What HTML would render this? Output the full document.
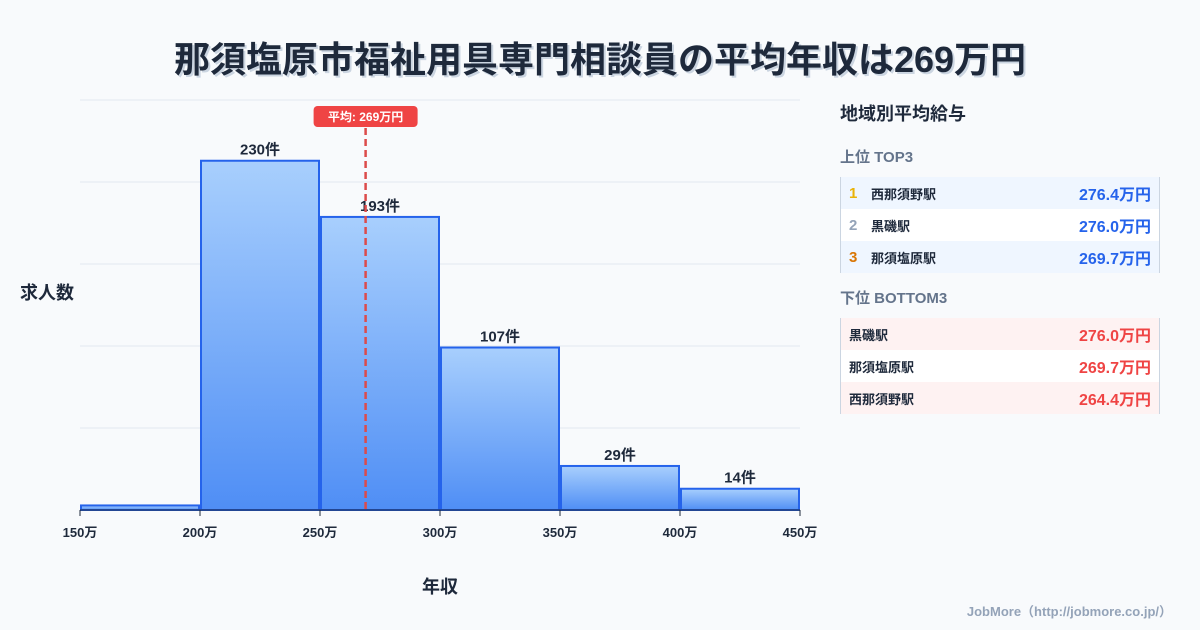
<!DOCTYPE html>
<html><head><meta charset="utf-8"><style>
body{margin:0;width:1200px;height:630px;background:#f8fafc;font-family:"Liberation Sans","Noto Sans CJK JP",sans-serif;position:relative;overflow:hidden;color:#1e293b}
.title{position:absolute;top:31px;left:0;width:1200px;text-align:center;font-size:36px;font-weight:bold;color:#1e293b;text-shadow:2px 2px 0 #cbd5e1}
.panel{position:absolute;left:840px;top:100px;width:320px}
.ph{font-size:18px;font-weight:bold;margin-bottom:20px}
.sec{font-size:15px;font-weight:bold;color:#64748b;margin:0 0 10px}
.tbl{border-left:1px solid #cbd5e1;border-right:1px solid #cbd5e1;margin-bottom:14px}
.row{height:32px;display:flex;align-items:center;font-size:13px;font-weight:bold;padding:0 8px}
.row .n{width:22px;font-size:15px}
.row .v{margin-left:auto;font-size:16px}
.foot{position:absolute;right:28px;bottom:10px;font-size:13px;font-weight:bold;color:#94a3b8}
</style></head><body>
<div class="title">那須塩原市福祉用具専門相談員の平均年収は269万円</div>
<svg width="1200" height="630" style="position:absolute;left:0;top:0" id="chart">
<defs><linearGradient id="g" x1="0" y1="0" x2="0" y2="1"><stop offset="0" stop-color="#a8cffd"/><stop offset="1" stop-color="#4f8ef5"/></linearGradient></defs>
<g id="grid"></g><g id="bars"></g><g id="axis"></g>
<text x="20" y="299" font-size="18" font-weight="bold" fill="#1e293b">求人数</text>
<text x="440" y="593" font-size="18" font-weight="bold" fill="#1e293b" text-anchor="middle">年収</text>
</svg>
<div class="panel">
<div class="ph">地域別平均給与</div>
<div class="sec">上位 TOP3</div>
<div class="tbl">
<div class="row" style="background:#eff6ff"><span class="n" style="color:#eab308">1</span>西那須野駅<span class="v" style="color:#2563eb">276.4万円</span></div>
<div class="row" style="background:#fff"><span class="n" style="color:#94a3b8">2</span>黒磯駅<span class="v" style="color:#2563eb">276.0万円</span></div>
<div class="row" style="background:#eff6ff"><span class="n" style="color:#d97706">3</span>那須塩原駅<span class="v" style="color:#2563eb">269.7万円</span></div>
</div>
<div class="sec">下位 BOTTOM3</div>
<div class="tbl">
<div class="row" style="background:#fef2f2">黒磯駅<span class="v" style="color:#ef4444">276.0万円</span></div>
<div class="row" style="background:#fff">那須塩原駅<span class="v" style="color:#ef4444">269.7万円</span></div>
<div class="row" style="background:#fef2f2">西那須野駅<span class="v" style="color:#ef4444">264.4万円</span></div>
</div>
</div>
<div class="foot">JobMore（http://jobmore.co.jp/）</div>
<script>
const binEdges=[150,200,250,300,350,400,450];
const counts=[3,230,193,107,29,14];
const countLabels=["","230件","193件","107件","29件","14件"];
const tickLabels=["150万","200万","250万","300万","350万","400万","450万"];
const yTicks=[0,54,108,162,216,270];
const avg=269;
const avgLabel="平均: 269万円";
const NS="http://www.w3.org/2000/svg";
const X0=80,X1=800,Y0=510,Y1=100;
const xs=v=>X0+(v-150)/(450-150)*(X1-X0);
const ys=v=>Y0-v/270*(Y0-Y1);
function mk(t,a,p){const e=document.createElementNS(NS,t);for(const k in a)e.setAttribute(k,a[k]);p.appendChild(e);return e;}
const grid=document.getElementById('grid'),bars=document.getElementById('bars'),axis=document.getElementById('axis');
yTicks.forEach(v=>{if(v===0)return;const l=mk('line',{x1:X0,x2:X1,y1:ys(v),y2:ys(v),stroke:'#e2e8f0','stroke-width':1},grid);

});
counts.forEach((c,i)=>{const x=xs(binEdges[i])+1,w=xs(binEdges[i+1])-xs(binEdges[i])-2;
const r=mk('rect',{x:x,y:ys(c),width:w,height:Y0-ys(c),fill:'url(#g)',stroke:'#2563eb','stroke-width':2},bars);


if(countLabels[i]){const t=mk('text',{x:x+w/2,y:ys(c)-6,'text-anchor':'middle','font-size':15,'font-weight':'bold',fill:'#1e293b'},bars);t.textContent=countLabels[i];

}});
mk('line',{x1:X0,x2:X1,y1:Y0,y2:Y0,stroke:'#1e293b','stroke-width':1},axis);
binEdges.forEach((v,i)=>{mk('line',{x1:xs(v),x2:xs(v),y1:Y0,y2:Y0+6,stroke:'#1e293b'},axis);
const t=mk('text',{x:xs(v),y:Y0+27,'text-anchor':'middle','font-size':13,'font-weight':'bold',fill:'#1e293b'},axis);t.textContent=tickLabels[i];

});
const ax=xs(avg);
const al=mk('line',{x1:ax,x2:ax,y1:128,y2:Y0,stroke:'#dc4b4b','stroke-width':2.5,'stroke-dasharray':'7,4'},axis);


const ar=mk('rect',{x:ax-52,y:106,width:104,height:21,rx:4,fill:'#ef4444'},axis);


const at=mk('text',{x:ax,y:121,'text-anchor':'middle','font-size':12,'font-weight':'bold',fill:'#fff'},axis);at.textContent=avgLabel;


</script>
</body></html>
